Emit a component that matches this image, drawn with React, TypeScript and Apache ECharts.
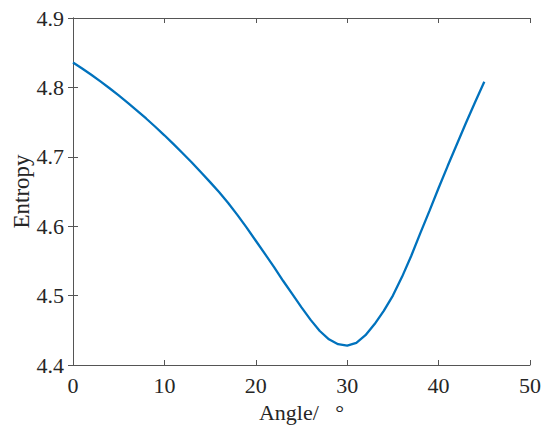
import React, { useEffect, useRef } from "react";
import * as echarts from "echarts";

const angles = [
  0, 1, 2, 3, 4, 5, 6, 7, 8, 9, 10, 11, 12, 13, 14, 15, 16, 17, 18, 19, 20, 21, 22,
  23, 24, 25, 26, 27, 28, 29, 30, 31, 32, 33, 34, 35, 36, 37, 38, 39, 40, 41, 42, 43,
  44, 45,
];
const entropy = [
  4.836, 4.8273, 4.8182, 4.8087, 4.7988, 4.7885, 4.7778, 4.7667, 4.7552, 4.7433,
  4.731, 4.7183, 4.7052, 4.6917, 4.6778, 4.6635, 4.6488, 4.633, 4.616, 4.598,
  4.579, 4.56, 4.541, 4.521, 4.502, 4.483, 4.465, 4.449, 4.437, 4.43, 4.428, 4.432,
  4.443, 4.459, 4.478, 4.5, 4.527, 4.557, 4.59, 4.622, 4.655, 4.687, 4.718, 4.749,
  4.779, 4.808,
];

const xTicks = { min: 0, max: 50, interval: 10 };
const yTicks = { min: 4.4, max: 4.9, interval: 0.1 };
const xTitle = "Angle/   °";
const yTitle = "Entropy";

export default function App() {
  const ref = useRef<HTMLDivElement>(null);
  useEffect(() => {
    if (!ref.current) return;
    const chart = echarts.init(ref.current, undefined, { renderer: "svg" });
    const font = "'Liberation Serif', 'Times New Roman', serif";
    const axisColor = "#555555";
    const textColor = "#262626";
    const baseX = {
      type: "value" as const,
      min: xTicks.min,
      max: xTicks.max,
      interval: xTicks.interval,
      axisLine: { show: true, lineStyle: { color: axisColor, width: 1 } },
      axisTick: { show: true, inside: true, length: 5, lineStyle: { color: axisColor } },
      splitLine: { show: false },
    };
    const baseY = {
      type: "value" as const,
      min: yTicks.min,
      max: yTicks.max,
      interval: yTicks.interval,
      axisLine: { show: true, lineStyle: { color: axisColor, width: 1 } },
      axisTick: { show: true, inside: true, length: 5, lineStyle: { color: axisColor } },
      splitLine: { show: false },
    };
    chart.setOption({
      animation: false,
      backgroundColor: "#ffffff",
      grid: {
        left: 73,
        right: 20,
        top: 18,
        bottom: 71,
        containLabel: false,
        outerBoundsMode: "none",
      },
      xAxis: [
        {
          ...baseX,
          position: "bottom",
          name: xTitle,
          nameLocation: "middle",
          nameGap: 36,
          nameMoveOverlap: false,
          nameTextStyle: { fontFamily: font, fontSize: 22, color: textColor },
          axisLabel: { fontFamily: font, fontSize: 22, color: textColor, margin: 9 },
        },
        { ...baseX, position: "top", axisLabel: { show: false } },
      ],
      yAxis: [
        {
          ...baseY,
          position: "left",
          name: yTitle,
          nameLocation: "middle",
          nameGap: 40,
          nameMoveOverlap: false,
          nameTextStyle: { fontFamily: font, fontSize: 23, color: textColor },
          axisLabel: {
            fontFamily: font,
            fontSize: 22,
            color: textColor,
            margin: 9,
            formatter: (v: number) => v.toFixed(1),
          },
        },
        { ...baseY, position: "right", axisLabel: { show: false } },
      ],
      series: [
        {
          type: "line",
          xAxisIndex: 0,
          yAxisIndex: 0,
          data: angles.map((a, i) => [a, entropy[i]]),
          showSymbol: false,
          smooth: false,
          lineStyle: { color: "#0072BD", width: 2.3 },
        },
      ],
    });
    return () => chart.dispose();
  }, []);
  return <div ref={ref} style={{ width: 550, height: 436, position: "absolute", left: 0, top: 0 }} />;
}
